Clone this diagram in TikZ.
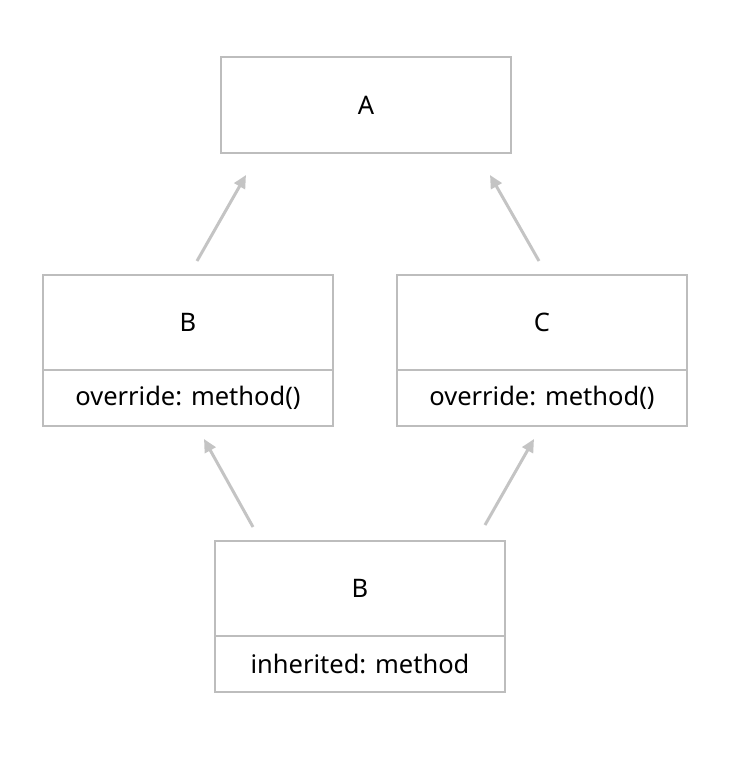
\documentclass[tikz,border=0pt]{standalone}
\usepackage{fontspec}
\setmainfont{Noto Sans}
\usetikzlibrary{arrows.meta,positioning}
\definecolor{edge}{HTML}{BDBDBD}
\definecolor{link}{HTML}{C4C4C4}
\tikzset{
  box/.style={draw=edge, line width=2pt, fill=white, minimum width=290pt,
    inner sep=0pt, outer sep=0pt, font=\fontsize{25.5}{30}\selectfont, text=black},
  titlepart/.style={box, minimum height=95pt},
  memberpart/.style={box, minimum height=56pt},
  inherits/.style={draw=link, line width=3pt,
    -{Triangle[length=13pt,width=12pt]}},
}
\begin{document}
\begin{tikzpicture}[x=1pt,y=-1pt]
  \useasboundingbox (0,0) rectangle (734,766);
  % class A
  \node[titlepart, minimum height=96pt] (a) at (366,105) {A};
  % class B (left) and class C (right)
  \node[titlepart] (b) at (188,322.5) {B};
  \node[memberpart, below=0pt of b] (bm) {override: method()};
  \node[titlepart] (c) at (542,322.5) {C};
  \node[memberpart, below=0pt of c] (cm) {override: method()};
  % class B (bottom)
  \node[titlepart] (d) at (360,588.5) {B};
  \node[memberpart, below=0pt of d] (dm) {inherited: method};
  % arrow end points
  \coordinate (b-up) at (197,261);
  \coordinate (a-left) at (246,175);
  \coordinate (c-up) at (539,261);
  \coordinate (a-right) at (490,175);
  \coordinate (d-left) at (253,527);
  \coordinate (b-down) at (204,439);
  \coordinate (d-right) at (485,525);
  \coordinate (c-down) at (534,439);
  \draw[inherits] (b-up) -- (a-left);
  \draw[inherits] (c-up) -- (a-right);
  \draw[inherits] (d-left) -- (b-down);
  \draw[inherits] (d-right) -- (c-down);
\end{tikzpicture}
\end{document}
